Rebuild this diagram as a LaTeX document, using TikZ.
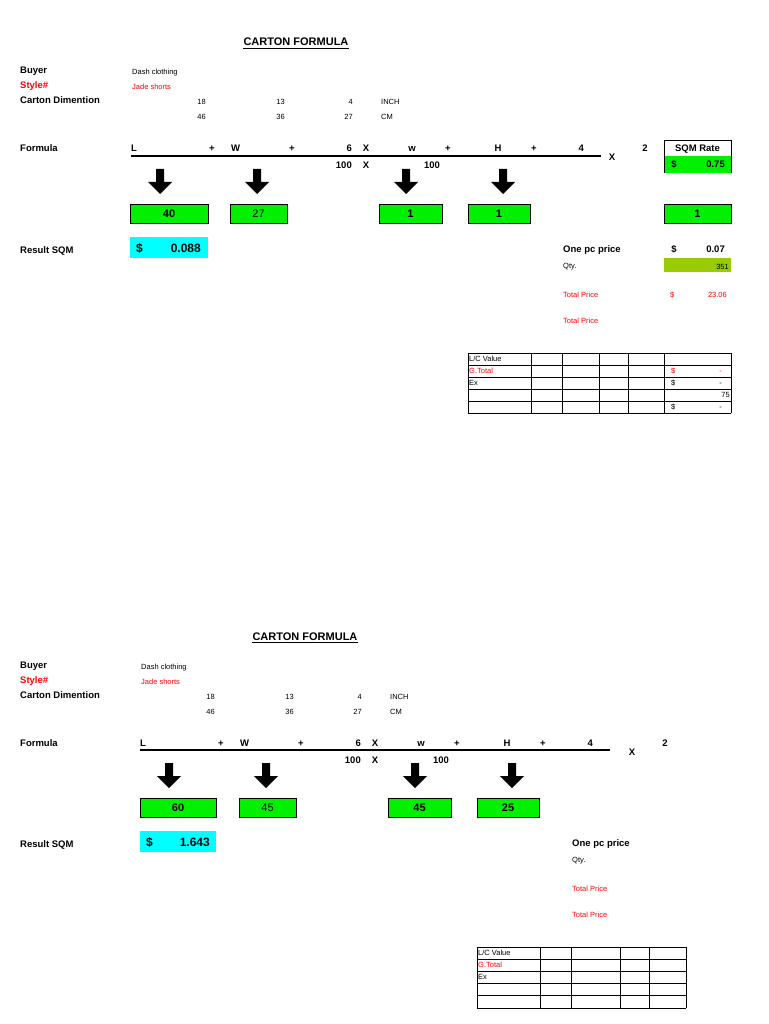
\documentclass[tikz,border=0pt]{standalone}
\usepackage{fontspec}
\setmainfont{Liberation Sans}
\definecolor{xgreen}{HTML}{00F000}
\definecolor{xcyan}{HTML}{00FFFF}
\definecolor{xolive}{HTML}{99CC00}
\definecolor{xred}{HTML}{FF0000}
\tikzset{
  lab/.style={anchor=base west,inner sep=0pt,font=\bfseries\fontsize{9.5}{10}\selectfont},
  sm/.style={anchor=base west,inner sep=0pt,font=\mdseries\fontsize{7.5}{8}\selectfont},
  smr/.style={anchor=base east,inner sep=0pt,font=\mdseries\fontsize{7.5}{8}\selectfont},
  fb/.style={anchor=base,inner sep=0pt,font=\bfseries\fontsize{9.5}{10}\selectfont},
  fbr/.style={anchor=base east,inner sep=0pt,font=\bfseries\fontsize{9.5}{10}\selectfont},
  gbox/.style={draw=black,line width=0.8pt,fill=xgreen,inner sep=0pt,minimum height=19pt,font=\bfseries\fontsize{11}{12}\selectfont},
  gboxm/.style={gbox,font=\mdseries\fontsize{11}{12}\selectfont},
  downarrow/.style={fill=black},
  tline/.style={line width=0.6pt}
}
\newcommand{\cartonblock}[4]{%
\node[anchor=base,inner sep=0pt,font=\bfseries\fontsize{11}{12}\selectfont] (#2title) at ({#1+296},46) {CARTON FORMULA};%
\draw[line width=0.8pt] ([yshift=-2.5pt]#2title.south west) -- ([yshift=-2.5pt]#2title.south east);%
\node[lab] (#2buyer) at (20,74) {Buyer};%
\node[lab,text=xred] (#2style) at (20,89) {Style\#};%
\node[lab] (#2dim) at (20,104) {Carton Dimention};%
\node[sm] (#2dash) at ({#1+132},75) {Dash clothing};%
\node[sm,text=xred] (#2jade) at ({#1+132},90) {Jade shorts};%
\node[smr] (#2a1) at ({#1+206},105) {18};%
\node[smr] (#2a2) at ({#1+285},105) {13};%
\node[smr] (#2a3) at ({#1+353},105) {4};%
\node[sm] (#2a4) at ({#1+381},105) {INCH};%
\node[smr] (#2b1) at ({#1+206},120) {46};%
\node[smr] (#2b2) at ({#1+285},120) {36};%
\node[smr] (#2b3) at ({#1+353},120) {27};%
\node[sm] (#2b4) at ({#1+381},120) {CM};%
\node[lab] (#2formula) at (20,152) {Formula};%
\node[lab] (#2L) at ({#1+131},152) {L};%
\node[fb] (#2p1) at ({#1+212},152) {+};%
\node[lab] (#2W) at ({#1+231},152) {W};%
\node[fb] (#2p2) at ({#1+292},152) {+};%
\node[fbr] (#2six) at ({#1+352},152) {6};%
\node[fb] (#2x1) at ({#1+366},152) {X};%
\node[fb] (#2w) at ({#1+412},152) {w};%
\node[fb] (#2p3) at ({#1+448},152) {+};%
\node[fb] (#2H) at ({#1+498},152) {H};%
\node[fb] (#2p4) at ({#1+534},152) {+};%
\node[fbr] (#2four) at ({#1+584},152) {4};%
\coordinate (#2r1) at ({#1+131},156);%
\coordinate (#2r2) at ({#1+601},156);%
\draw[line width=1.2pt] (#2r1) -- (#2r2);%
\node[fb] (#2x2) at ({#3+612},161) {X};%
\node[fb] (#2two) at ({#3+645},152) {2};%
\node[fbr] (#2h1) at ({#1+352},169) {100};%
\node[fb] (#2x3) at ({#1+366},169) {X};%
\node[fb] (#2h2) at ({#1+432},169) {100};%
\node[lab] (#2res) at (20,253) {Result SQM};%
\node[lab] (#2one) at ({#1+563},252) {One pc price};%
\node[sm] (#2qty) at ({#1+563},268) {Qty.};%
\node[sm,text=xred] (#2tp1) at ({#1+563},297) {Total Price};%
\node[sm,text=xred] (#2tp2) at ({#1+563},323) {Total Price};%
\foreach \ax in {160,257,406,503}{%
  \fill[downarrow] ({#1+\ax-4},169) -- ({#1+\ax+4},169) -- ({#1+\ax+4},182) -- ({#1+\ax+12},182) -- ({#1+\ax},194) -- ({#1+\ax-12},182) -- ({#1+\ax-4},182) -- cycle;%
}%
}
\begin{document}
\begin{tikzpicture}[x=1pt,y=-1pt]
\useasboundingbox (0,0) rectangle (768,1024);
% ---------- block 1 ----------
\node[gbox,minimum width=78pt] (av1) at (169,213.5) {40};
\node[gboxm,minimum width=57pt] (av2) at (258.5,213.5) {27};
\node[gbox,minimum width=63pt] (av3) at (410.5,213.5) {1};
\node[gbox,minimum width=62pt] (av4) at (499,213.5) {1};
\node[gbox,minimum width=67pt] (av5) at (697.5,213.5) {1};
\cartonblock{0}{a}{0}{}
\draw[line width=0.8pt] (664,140) rectangle (731,156);
\node[fb] (asqm) at (697.5,152) {SQM Rate};
\fill[xgreen] (664,156) rectangle (731,173);
\draw[line width=0.8pt] (664,156) -- (664,173) (731,156) -- (731,173);
\node[fb] (ad) at (674,168) {\$};
\node[fbr] (ar) at (725,168) {0.75};
\fill[xcyan] (130,237) rectangle (208,258);
\node[anchor=base west,inner sep=0pt,font=\bfseries\fontsize{12}{13}\selectfont] (acy1) at (136,252) {\$};
\node[anchor=base east,inner sep=0pt,font=\bfseries\fontsize{12}{13}\selectfont] (acy2) at (201,252) {0.088};
\node[fb] (aod) at (674,252) {\$};
\node[fbr] (aov) at (725,252) {0.07};
\fill[xolive] (664,258) rectangle (731,272);
\node[smr] (aq) at (729,269) {351};
\node[sm,text=xred] (atd) at (670,297) {\$};
\node[smr,text=xred] (atv) at (727,297) {23.06};
% table 1
\foreach \yy in {353,365,377,389,401,413} \draw[tline] (468,\yy) -- (731,\yy);
\foreach \xx in {468,531,562,599,628,664,731} \draw[tline] (\xx,353) -- (\xx,413);
\node[sm] (at1) at (469,361) {L/C Value};
\node[sm,text=xred] (at2) at (469,373) {G.Total};
\node[sm] (at3) at (469,385) {Ex};
\node[sm,text=xred] (at4) at (671,373) {\$};
\node[smr,text=xred] (at5) at (722,373) {-};
\node[sm] (at6) at (671,385) {\$};
\node[smr] (at7) at (722,385) {-};
\node[smr] (at8) at (730,397) {75};
\node[sm] (at9) at (671,409) {\$};
\node[smr] (at10) at (722,409) {-};
% ---------- block 2 ----------
\begin{scope}[shift={(0,594)}]
\node[gbox,minimum width=76pt] (bv1) at (178,213.5) {60};
\node[gboxm,minimum width=57pt] (bv2) at (267.5,213.5) {45};
\node[gbox,minimum width=63pt] (bv3) at (419.5,213.5) {45};
\node[gbox,minimum width=62pt] (bv4) at (508,213.5) {25};
\cartonblock{9}{b}{20}{}
\fill[xcyan] (140,237) rectangle (216,258);
\node[anchor=base west,inner sep=0pt,font=\bfseries\fontsize{12}{13}\selectfont] (bcy1) at (146,252) {\$};
\node[anchor=base east,inner sep=0pt,font=\bfseries\fontsize{12}{13}\selectfont] (bcy2) at (210,252) {1.643};
\foreach \yy in {353,365,377,389,401,414} \draw[tline] (477,\yy) -- (686,\yy);
\foreach \xx in {477,540,571,620,649,686} \draw[tline] (\xx,353) -- (\xx,414);
\node[sm] (bt1) at (478,361) {L/C Value};
\node[sm,text=xred] (bt2) at (478,373) {G.Total};
\node[sm] (bt3) at (478,385) {Ex};
\end{scope}
\end{tikzpicture}
\end{document}
